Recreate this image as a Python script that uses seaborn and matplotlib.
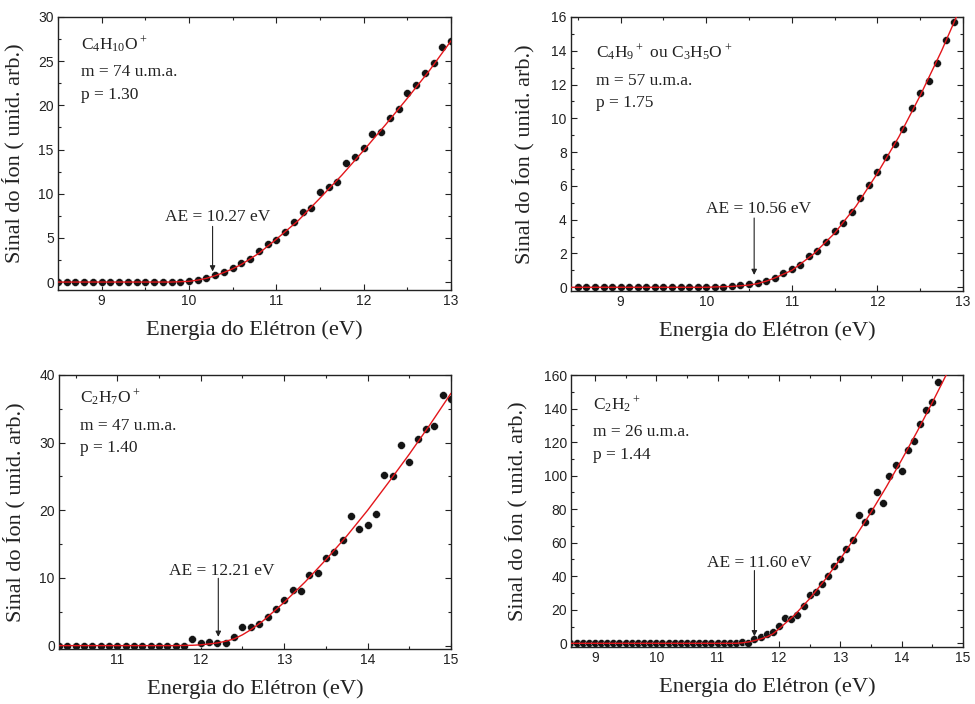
import numpy as np
import matplotlib
matplotlib.use("Agg")
import matplotlib.pyplot as plt
from matplotlib.ticker import MultipleLocator
import seaborn as sns

# ---------------- data ----------------
# Panel 1: C4H10O+
x1 = np.round(np.arange(8.5, 13.05, 0.1), 1)
y1 = [0, 0, 0, 0, 0, 0, 0, 0, 0, 0, 0, 0, 0, 0, 0,
      0.1, 0.2, 0.45, 0.83, 1.13, 1.6, 2.15, 2.65, 3.5, 4.3, 4.8, 5.7, 6.8, 7.95, 8.4,
      10.15, 10.8, 11.35, 13.5, 14.1, 15.15, 16.75, 16.95, 18.55, 19.55, 21.35, 22.25,
      23.65, 24.8, 26.55, 27.25]
fx1 = [8.5, 9.8, 10.0, 10.1, 10.2, 10.3, 10.4, 10.5, 10.6, 10.8, 11.0, 11.25, 11.5,
       11.75, 12.0, 12.25, 12.5, 12.75, 13.0]
fy1 = [0.0, 0.0, 0.08, 0.22, 0.42, 0.72, 1.08, 1.5, 2.0, 3.25, 4.85, 6.95, 9.5,
       12.1, 14.9, 17.8, 20.8, 23.9, 27.3]

# Panel 2: C4H9+ ou C3H5O+
x2 = np.round(np.arange(8.5, 12.95, 0.1), 1)
y2 = [0, 0, 0, 0, 0, 0, 0, 0, 0, 0, 0, 0, 0, 0, 0,
      0.02, 0.04, 0.04, 0.1, 0.12, 0.18, 0.28, 0.38, 0.53, 0.83, 1.1, 1.3, 1.86, 2.17,
      2.67, 3.32, 3.81, 4.45, 5.3, 6.07, 6.82, 7.73, 8.5, 9.37, 10.6, 11.48, 12.23,
      13.28, 14.62, 15.71]
fx2 = [8.42, 10.0, 10.3, 10.5, 10.6, 10.7, 10.8, 11.0, 11.25, 11.5, 11.75, 12.0,
       12.25, 12.5, 12.75, 13.0]
fy2 = [0.0, 0.0, 0.05, 0.13, 0.22, 0.36, 0.55, 1.0, 1.95, 3.2, 4.8, 6.75,
       8.9, 11.35, 14.0, 16.9]

# Panel 3: C2H7O+
x3 = np.round(np.arange(10.3, 15.05, 0.1), 1)
y3 = [0, 0, 0, 0, 0, 0, 0, 0, 0, 0, 0, 0, 0, 0, 0, 0,
      1.03, 0.4, 0.6, 0.35, 0.35, 1.23, 2.8, 2.8, 3.2, 4.2, 5.4, 6.8, 8.2, 8.0, 10.4,
      10.8, 13.0, 13.8, 15.6, 19.2, 17.2, 17.8, 19.4, 25.2, 25.1, 29.65, 27.2, 30.6,
      32.0, 32.4, 37.0, 36.4]
fx3 = [10.3, 11.7, 11.9, 12.0, 12.1, 12.2, 12.3, 12.4, 12.5, 12.6, 12.75, 13.0,
       13.25, 13.5, 13.75, 14.0, 14.25, 14.5, 14.75, 15.0]
fy3 = [0.0, 0.0, 0.05, 0.12, 0.25, 0.4, 0.65, 1.0, 1.6, 2.35, 3.7, 6.4,
       9.4, 12.7, 16.2, 20.0, 24.1, 28.3, 32.7, 37.3]

# Panel 4: C2H2+
x4 = np.round(np.arange(8.6, 14.65, 0.1), 1)
y4 = [0, 0, 0, 0, 0, 0, 0, 0, 0, 0, 0, 0, 0, 0, 0, 0, 0, 0, 0, 0,
      0, 0, 0, 0, 0, 0, 0, 0, 0.8, 0.3,
      2.6, 3.6, 5.5, 6.7, 10.1, 14.9, 14.5, 16.9, 22.4, 28.7, 30.5, 35.3, 40.2, 46.0,
      50.2, 56.5, 61.5, 76.5, 72.6, 79.1, 90.0, 83.5, 99.9, 106.5, 102.9, 115.2,
      120.7, 131.0, 139.4, 144.1, 155.8]
fx4 = [8.6, 11.3, 11.4, 11.5, 11.6, 11.7, 11.8, 11.9, 12.0, 12.25, 12.5, 12.75,
       13.0, 13.25, 13.5, 13.75, 14.0, 14.25, 14.5, 14.75, 15.0]
fy4 = [0.0, 0.0, 0.3, 0.8, 1.6, 2.6, 3.8, 5.6, 8.6, 16.7, 26.6, 37.9,
       50.3, 63.8, 78.1, 93.3, 109.4, 126.1, 143.6, 161.8, 180.0]

ions = [r"C$\mathregular{_4}$H$\mathregular{_{10}}$O$\mathregular{^+}$",
        r"C$\mathregular{_4}$H$\mathregular{_9}$$\mathregular{^+}$ ou C$\mathregular{_3}$H$\mathregular{_5}$O$\mathregular{^+}$",
        r"C$\mathregular{_2}$H$\mathregular{_7}$O$\mathregular{^+}$",
        r"C$\mathregular{_2}$H$\mathregular{_2}$$\mathregular{^+}$"]
masses = ["m = 74 u.m.a.", "m = 57 u.m.a.", "m = 47 u.m.a.", "m = 26 u.m.a."]
pvals = ["p = 1.30", "p = 1.75", "p = 1.40", "p = 1.44"]
ae_vals = [10.27, 10.56, 12.21, 11.60]
ae_labels = ["AE = 10.27 eV", "AE = 10.56 eV", "AE = 12.21 eV", "AE = 11.60 eV"]

xlabel = "Energia do Elétron (eV)"
ylabel = "Sinal do Íon ( unid. arb.)"

# ---------------- style ----------------
sns.set_theme(style="ticks")
plt.rcParams["font.family"] = ["Liberation Sans", "DejaVu Sans"]
plt.rcParams["mathtext.fontset"] = "custom"
plt.rcParams["mathtext.rm"] = "Liberation Serif"

SERIF = ["Liberation Serif", "DejaVu Serif"]

fig = plt.figure(figsize=(9.75, 7.04), dpi=100)
W, H = 975.0, 704.0
rects = [
    [58 / W, 1 - 290 / H, 393 / W, 273 / H],
    [571 / W, 1 - 291 / H, 392 / W, 274 / H],
    [59 / W, 1 - 649 / H, 392 / W, 274 / H],
    [571 / W, 1 - 647 / H, 392 / W, 272 / H],
]
xlims = [(8.5, 13.0), (8.42, 13.0), (10.3, 15.0), (8.61, 15.0)]
ylims = [(-0.9, 30), (-0.22, 16), (-0.5, 40), (-2.2, 160)]
ymaj = [5, 2, 10, 20]
xs = [x1, x2, x3, x4]
ys = [y1, y2, y3, y4]
fxs = [fx1, fx2, fx3, fx4]
fys = [fy1, fy2, fy3, fy4]
text_x = [0.058, 0.064, 0.054, 0.056]
text_y = [(0.88, 0.784, 0.70), (0.85, 0.752, 0.67), (0.898, 0.80, 0.72), (0.872, 0.777, 0.693)]
ae_text = [(10.33, 6.9), (10.61, 4.39), (12.25, 10.5), (11.68, 45.4)]
ae_arrow = [(6.3, 1.2), (4.1, 0.73), (9.95, 1.3), (43.4, 4.2)]
ylab_x = [-0.086, -0.092, -0.086, -0.112]

for i in range(4):
    ax = fig.add_axes(rects[i])
    sns.scatterplot(x=xs[i], y=ys[i], ax=ax, color="#141414", s=32,
                    edgecolor="white", linewidth=0.3, zorder=2, legend=False)
    sns.lineplot(x=fxs[i], y=fys[i], ax=ax, color="#e3161b", lw=1.0,
                 estimator=None, sort=False, zorder=3, legend=False)
    ax.set_xlim(*xlims[i])
    ax.set_ylim(*ylims[i])
    ax.xaxis.set_major_locator(MultipleLocator(1))
    ax.xaxis.set_minor_locator(MultipleLocator(0.5))
    ax.yaxis.set_major_locator(MultipleLocator(ymaj[i]))
    ax.yaxis.set_minor_locator(MultipleLocator(ymaj[i] / 2))
    ax.tick_params(which="both", direction="in", top=True, right=True,
                   width=0.8, colors="#222222", labelcolor="#222222")
    ax.tick_params(which="major", length=4, labelsize=10, pad=3)
    ax.tick_params(which="minor", length=2.5)
    for sp in ax.spines.values():
        sp.set_linewidth(1.0)
        sp.set_color("#222222")
    ax.set_xlabel(xlabel, fontsize=16.2, family=SERIF, color="#222222")
    ax.set_ylabel(ylabel, fontsize=16, family=SERIF, color="#222222")
    ax.xaxis.set_label_coords(0.5, -0.11)
    ax.yaxis.set_label_coords(ylab_x[i], 0.5)

    tx = text_x[i]
    for txt, ty in zip([ions[i], masses[i], pvals[i]], text_y[i]):
        ax.text(tx, ty, txt, transform=ax.transAxes, fontsize=12.5,
                family=SERIF, color="#222222", va="baseline", ha="left")

    ax.text(ae_text[i][0], ae_text[i][1], ae_labels[i], fontsize=12.5,
            family=SERIF, color="#222222", ha="center", va="baseline")
    ax.annotate("", xy=(ae_vals[i], ae_arrow[i][1]), xytext=(ae_vals[i], ae_arrow[i][0]),
                arrowprops=dict(arrowstyle="-|>", color="#222222", lw=0.8,
                                mutation_scale=8, shrinkA=0, shrinkB=0))

fig.savefig("out.png", dpi=100)
